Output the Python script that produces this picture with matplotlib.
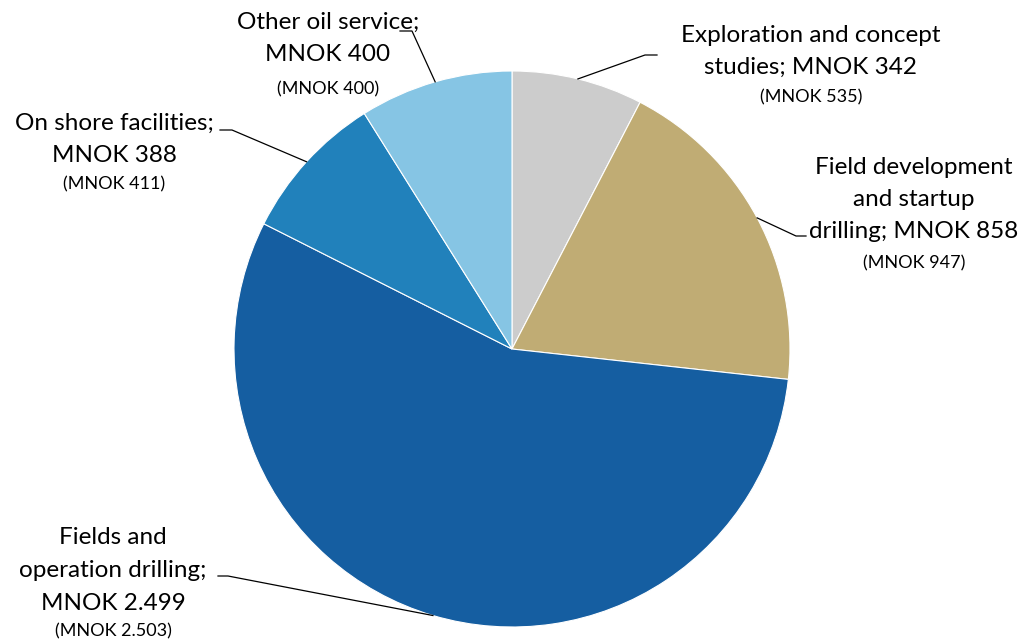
import numpy as np
import matplotlib.pyplot as plt

# data
categories = ['Exploration and concept\nstudies; MNOK 342',
              'Field development\nand startup\ndrilling; MNOK 858',
              'Fields and\noperation drilling;\nMNOK 2.499',
              'On shore facilities;\nMNOK 388',
              'Other oil service;\nMNOK 400']
values = [342, 858, 2499, 388, 400]
prev_labels = ['(MNOK 535)', '(MNOK 947)', '(MNOK 2.503)', '(MNOK 411)', '(MNOK 400)']
colors = ['#cccccc', '#c0ac74', '#155ea1', '#2181bb', '#86c5e4']

plt.rcParams['font.family'] = ['Lato', 'DejaVu Sans']

W, H = 1022, 640
fig = plt.figure(figsize=(W / 100, H / 100), dpi=100)
ax = fig.add_axes([0, 0, 1, 1])

cx, cy, r = 512, H - 349, 278
wedges, _ = ax.pie(values, colors=colors, startangle=90, counterclock=False,
                   center=(cx, cy), radius=r, frame=True,
                   wedgeprops=dict(edgecolor='white', linewidth=0.8))
ax.set_xlim(0, W)
ax.set_ylim(0, H)
ax.set_aspect('equal')
ax.axis('off')

# label layout: (text x, first-line y, small-line y, elbow end, elbow start) in pixels from top
layout = [
    (811, 35, 97, (657, 55), (645, 55)),
    (914, 167, 263, (806, 236), (796, 236)),
    (113, 538, 631, (218, 576), (228, 576)),
    (114, 123, 184, (220, 130), (232, 130)),
    (328, 22, 89, (400, 31), (412, 31)),
]
line_h = 32.5

for w, lab, prev, (tx, ty, sy, e1, e2) in zip(wedges, categories, prev_labels, layout):
    ang = np.deg2rad((w.theta1 + w.theta2) / 2)
    px, py = cx + r * np.cos(ang), cy + r * np.sin(ang)
    ax.plot([px, e2[0], e1[0]], [py, H - e2[1], H - e1[1]], color='black', lw=0.9)
    for i, line in enumerate(lab.split('\n')):
        ax.text(tx, H - (ty + i * line_h), line, ha='center', va='center', fontsize=17.5)
    ax.text(tx, H - sy, prev, ha='center', va='center', fontsize=13)

fig.savefig('out.png', dpi=100)
